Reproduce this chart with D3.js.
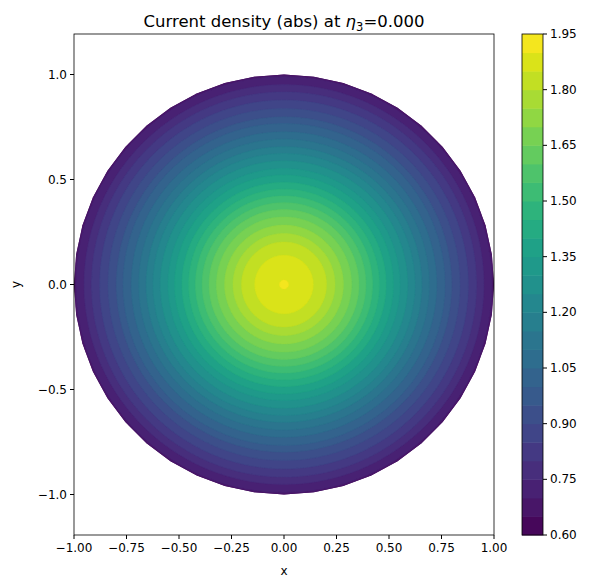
<!DOCTYPE html><html><head><meta charset="utf-8">
<script src="https://cdn.jsdelivr.net/npm/d3@7"></script>
<style>body{margin:0;background:#fff}text{font-family:"DejaVu Sans",sans-serif}</style></head><body>
<svg id="c" width="597" height="588"></svg>
<script>
// radial profile
const radii  = [0,0.02,0.14,0.203,0.243,0.283,0.322,0.357,0.39,0.422,0.454,0.486,0.521,0.552,0.589,0.624,0.656,0.692,0.727,0.767,0.798,0.838,0.878,0.917,0.952,0.99,1.2];
const values = [1.93,1.90,1.85,1.80,1.75,1.70,1.65,1.60,1.55,1.50,1.45,1.40,1.35,1.30,1.25,1.20,1.15,1.10,1.05,1.00,0.95,0.90,0.85,0.80,0.75,0.70,0.61];
const levels = d3.range(28).map(i=>+(0.60+0.05*i).toFixed(2));
const xTicks = [-1,-0.75,-0.5,-0.25,0,0.25,0.5,0.75,1];
const yTicks = [-1,-0.5,0,0.5,1];
const cbTicks = [0.60,0.75,0.90,1.05,1.20,1.35,1.50,1.65,1.80,1.95];
const nSides = 44;

const svg=d3.select("#c");
const L=74,R=494,T=34,B=535;
const x=d3.scaleLinear().domain([-1,1]).range([L,R]);
const yr=(B-T)/(R-L);
const y=d3.scaleLinear().domain([-yr,yr]).range([B,T]);
const prof=d3.scaleLinear().domain(radii).range(values).clamp(true);
const n=360, ext=1.1;
const gx=d3.scaleLinear().domain([0,n-1]).range([-ext,ext]);
const grid=new Array(n*n);
for(let j=0;j<n;j++)for(let i=0;i<n;i++){grid[j*n+i]=prof(Math.hypot(gx(i),gx(j)));}
const color=i=>d3.interpolateViridis((i+0.5)/(levels.length-1));
const poly=d3.range(nSides).map(k=>{const a=2*Math.PI*k/nSides;return [x(Math.cos(a)),y(Math.sin(a))];});
svg.append("clipPath").attr("id","disk").append("path").attr("d","M"+poly.join("L")+"Z");
const cs=d3.contours().size([n,n]).thresholds(levels.slice(0,-1))(grid);
const proj=d3.geoTransform({point:function(px,py){const gxv=-ext+2*ext*(px-0.5)/(n-1),gyv=-ext+2*ext*(py-0.5)/(n-1);this.stream.point(x(gxv),y(gyv));}});
const path=d3.geoPath(proj);
svg.append("g").attr("clip-path","url(#disk)").selectAll("path").data(cs).join("path")
 .attr("d",path).attr("fill",(d,i)=>color(i)).attr("stroke",(d,i)=>color(i)).attr("stroke-width",0.4);
svg.append("rect").attr("x",L).attr("y",T).attr("width",R-L).attr("height",B-T).attr("fill","none").attr("stroke","#000").attr("stroke-width",0.8);
const fmt2=v=>(v<0?"\u2212":"")+Math.abs(v).toFixed(2);
const fmt1=v=>(v<0?"\u2212":"")+Math.abs(v).toFixed(1);
xTicks.forEach(v=>{svg.append("line").attr("x1",x(v)).attr("x2",x(v)).attr("y1",B).attr("y2",B+4).attr("stroke","#000");
 svg.append("text").attr("x",x(v)).attr("y",B+17).attr("text-anchor","middle").attr("font-size",12).text(fmt2(v));});
yTicks.forEach(v=>{svg.append("line").attr("x1",L-4).attr("x2",L).attr("y1",y(v)).attr("y2",y(v)).attr("stroke","#000");
 svg.append("text").attr("x",L-7).attr("y",y(v)+4).attr("text-anchor","end").attr("font-size",12).text(fmt1(v));});
svg.append("text").attr("x",(L+R)/2).attr("y",575).attr("text-anchor","middle").attr("font-size",12).text("x");
svg.append("text").attr("transform",`translate(20,${(T+B)/2}) rotate(-90)`).attr("text-anchor","middle").attr("font-size",12).text("y");
const t=svg.append("text").attr("x",(L+R)/2).attr("y",27).attr("text-anchor","middle").attr("font-size",16.5);
t.append("tspan").text("Current density (abs) at ");
t.append("tspan").attr("font-style","italic").text("\u03b7");
t.append("tspan").attr("font-size",11.5).attr("dy",3.5).text("3");
t.append("tspan").attr("dy",-3.5).text("=0.000");
// colorbar
const cx0=522,cx1=543;
const cy=d3.scaleLinear().domain([0.60,1.95]).range([B,T]);
levels.slice(0,-1).forEach((v,i)=>svg.append("rect").attr("x",cx0).attr("width",cx1-cx0).attr("y",cy(levels[i+1])).attr("height",cy(v)-cy(levels[i+1])+0.5).attr("fill",color(i)));
svg.append("rect").attr("x",cx0).attr("y",T).attr("width",cx1-cx0).attr("height",B-T).attr("fill","none").attr("stroke","#000").attr("stroke-width",0.8);
cbTicks.forEach(v=>{svg.append("line").attr("x1",cx1).attr("x2",cx1+4).attr("y1",cy(v)).attr("y2",cy(v)).attr("stroke","#000");
 svg.append("text").attr("x",cx1+7).attr("y",cy(v)+4).attr("font-size",12).text(v.toFixed(2));});
</script></body></html>
